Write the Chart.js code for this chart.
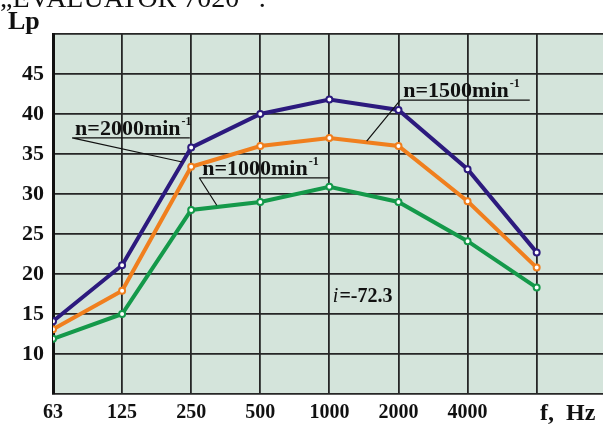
<!DOCTYPE html>
<html>
<head>
<meta charset="utf-8">
<script src="https://cdn.jsdelivr.net/npm/chart.js@4"></script>
<style>
  html, body { margin: 0; padding: 0; background: #fff; overflow: hidden; }
  #wrap { width: 603px; height: 426px; position: relative; }
</style>
</head>
<body>
<div id="wrap"><canvas id="chart" width="603" height="426"></canvas></div>
<script>
// frequency bands (x axis), the last band has no printed label
const freqLabels = ['63', '125', '250', '500', '1000', '2000', '4000', ''];
const yTickLabels = [10, 15, 20, 25, 30, 35, 40, 45];

// Lp values per speed
const lp2000 = [14.1, 21.1, 35.8, 40.0, 41.8, 40.5, 33.1, 22.7];
const lp1500 = [13.1, 17.9, 33.4, 36.0, 37.0, 36.0, 29.1, 20.8];
const lp1000 = [11.9, 15.0, 28.0, 29.0, 30.9, 29.0, 24.1, 18.3];

const serif = "'Liberation Serif', 'Times New Roman', serif";

// callouts: text position (x index, y value), underline end, leader end
const callouts = [
  { text: 'n=2000min', x: 0.32, y: 37.4, ul: 1.98, tx: 1.87, ty: 34.0 },
  { text: 'n=1000min', x: 2.16, y: 32.4, ul: 4.0, tx: 2.37, ty: 28.6 },
  { text: 'n=1500min', x: 5.07, y: 42.1, ul: 6.9, tx: 4.54, ty: 36.6 }
];

const toPoints = arr => arr.map((v, i) => ({ x: i, y: v }));

const series = (label, data, color) => ({
  label,
  data: toPoints(data),
  borderColor: color,
  borderWidth: 4,
  pointRadius: 3,
  pointBorderWidth: 2,
  pointBackgroundColor: '#ffffff',
  pointBorderColor: color,
  tension: 0
});

const decor = {
  id: 'decor',
  beforeDraw(chart) {
    const { ctx, chartArea: a } = chart;
    ctx.save();
    ctx.fillStyle = '#d4e4db';
    ctx.fillRect(a.left, a.top, a.right - a.left, a.bottom - a.top);
    ctx.restore();
  },
  afterDraw(chart) {
    const { ctx } = chart;
    const xs = chart.scales.x, ys = chart.scales.y;
    ctx.save();
    ctx.fillStyle = '#111';
    ctx.textBaseline = 'alphabetic';

    // cut-off heading line above the chart
    ctx.font = '28px ' + serif;
    ctx.fillText('\u201EEVALUATOR 7020\u201D .', 0, 7);

    ctx.font = 'bold 26px ' + serif;
    ctx.fillText('Lp', 8, 29);
    ctx.font = 'bold 24px ' + serif;
    ctx.fillText('f,  Hz', 540, 420);

    // callout labels with underline and leader
    for (const c of callouts) {
      const px = xs.getPixelForValue(c.x);
      const py = ys.getPixelForValue(c.y);
      ctx.font = 'bold 22px ' + serif;
      ctx.fillText(c.text, px, py);
      const w = ctx.measureText(c.text).width;
      ctx.font = 'bold 12px ' + serif;
      ctx.fillText('-1', px + w + 1, py - 10);
      ctx.strokeStyle = '#111';
      ctx.lineWidth = 1.2;
      ctx.beginPath();
      ctx.moveTo(px - 3, py + 3);
      ctx.lineTo(xs.getPixelForValue(c.ul), py + 3);
      ctx.moveTo(px - 3, py + 3);
      ctx.lineTo(xs.getPixelForValue(c.tx), ys.getPixelForValue(c.ty));
      ctx.stroke();
    }

    // i=-72.3
    const ix = xs.getPixelForValue(4.05), iy = ys.getPixelForValue(16.5);
    ctx.font = 'italic 20px ' + serif;
    ctx.fillText('i', ix, iy);
    const iw = ctx.measureText('i').width;
    ctx.font = 'bold 20px ' + serif;
    ctx.fillText('=-72.3', ix + iw + 1, iy);
    ctx.restore();
  }
};

new Chart(document.getElementById('chart'), {
  type: 'line',
  data: {
    datasets: [
      series('n=2000min-1', lp2000, '#2c1a7e'),
      series('n=1500min-1', lp1500, '#f07f1e'),
      series('n=1000min-1', lp1000, '#14994a')
    ]
  },
  options: {
    responsive: false,
    animation: false,
    devicePixelRatio: 1,
    layout: { autoPadding: false, padding: { top: 34, left: 0, right: 0, bottom: 0 } },
    plugins: { legend: { display: false }, tooltip: { enabled: false } },
    scales: {
      x: {
        type: 'linear',
        min: 0,
        max: 7.96,
        afterFit(s) { s.height = 32; s.paddingRight = 0; s.paddingLeft = 0; },
        afterBuildTicks(s) { s.ticks = freqLabels.map((_, i) => ({ value: i })); },
        grid: { color: '#262626', lineWidth: 1.8, drawTicks: false },
        border: { display: false },
        ticks: {
          padding: 7,
          maxRotation: 0,
          autoSkip: false,
          color: '#111',
          font: { family: serif, size: 20, weight: 'bold' },
          callback: v => freqLabels[v] ?? ''
        }
      },
      y: {
        min: 5,
        max: 50,
        afterFit(s) { s.width = 53; },
        grid: { color: '#262626', lineWidth: 1.8, drawTicks: false },
        border: { color: '#111', width: 3 },
        ticks: {
          stepSize: 5,
          padding: 9,
          color: '#111',
          font: { family: serif, size: 22, weight: 'bold' },
          callback: v => yTickLabels.includes(v) ? String(v) : ''
        }
      }
    }
  },
  plugins: [decor]
});
</script>
</body>
</html>
